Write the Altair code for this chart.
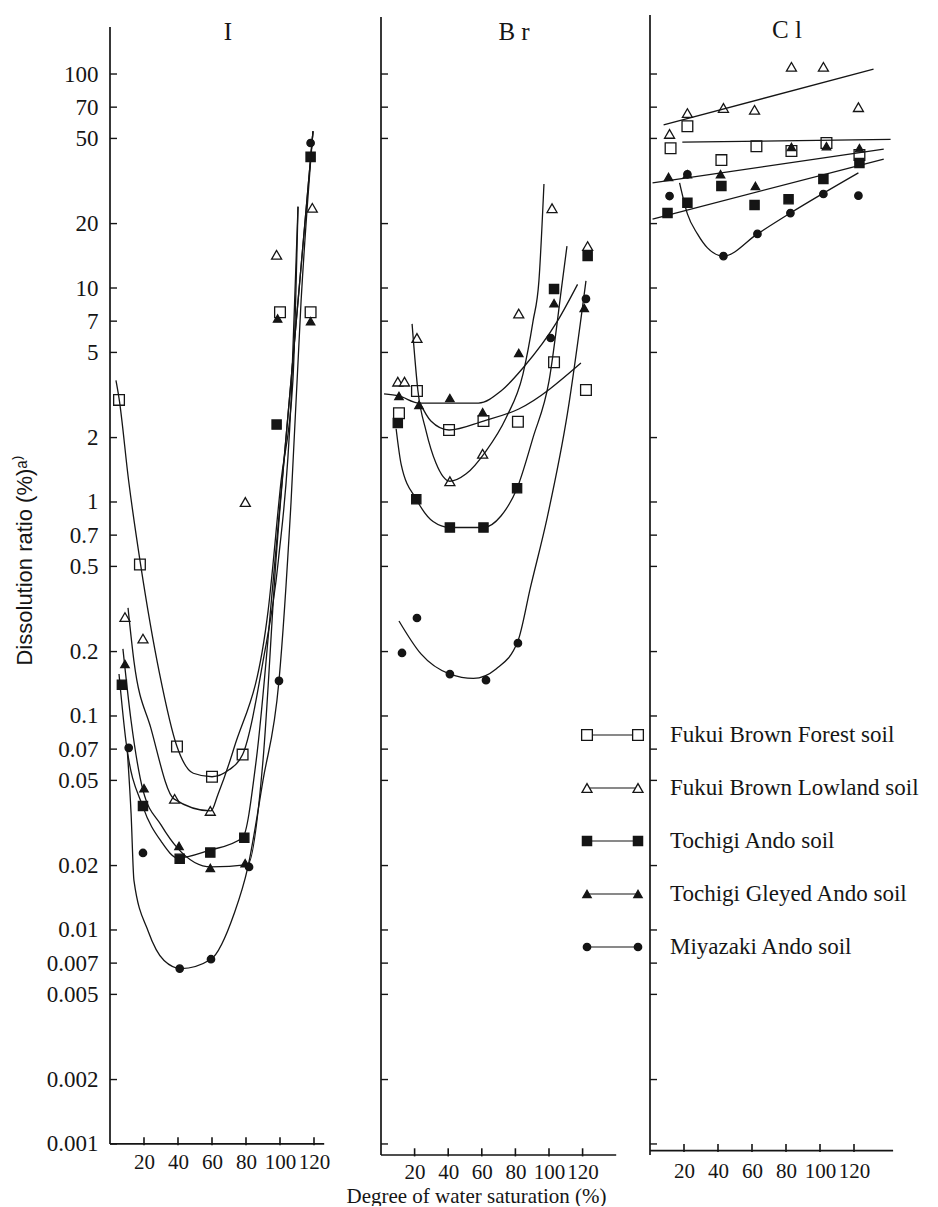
import altair as alt
import pandas as pd

SOILS = ["Fukui Brown Forest soil", "Fukui Brown Lowland soil", "Tochigi Ando soil",
         "Tochigi Gleyed Ando soil", "Miyazaki Ando soil"]
SHAPES = ["square", "triangle-up", "square", "triangle-up", "circle"]
FILLS = ["white", "white", "#151515", "#151515", "#151515"]
SIZES = [115, 55, 115, 75, 105]

Y_TICKS = [0.001, 0.002, 0.005, 0.007, 0.01, 0.02, 0.05, 0.07, 0.1, 0.2, 0.5, 0.7,
           1, 2, 5, 7, 10, 20, 50, 70, 100]
X_TICKS = [20, 40, 60, 80, 100, 120]

# ---------------- Panel I : measured points ----------------
I_FOREST_X = [5.3, 17.6, 39.4, 60, 78, 100, 118]
I_FOREST_Y = [3.0, 0.51, 0.072, 0.052, 0.066, 7.7, 7.7]
I_LOWLAND_X = [8.8, 19.4, 38, 59, 79.6, 98, 119]
I_LOWLAND_Y = [0.29, 0.23, 0.041, 0.036, 1.0, 14.3, 23.7]
I_ANDO_X = [7, 19.4, 41, 59, 79, 98, 118]
I_ANDO_Y = [0.14, 0.038, 0.0215, 0.023, 0.027, 2.3, 41]
I_GLEYED_X = [8.8, 20, 40.6, 59, 79.5, 98.6, 118]
I_GLEYED_Y = [0.175, 0.046, 0.0247, 0.0195, 0.0205, 7.2, 7.0]
I_MIYAZAKI_X = [11, 19.4, 41, 59.4, 81.8, 99.4, 118]
I_MIYAZAKI_Y = [0.071, 0.0229, 0.0066, 0.0073, 0.0197, 0.146, 47.6]

# Panel I : hand-drawn curves
I_FOREST_CX = [3.5, 5.3, 11, 18, 29, 39.4, 49, 60, 70, 78, 90, 99, 106.5, 110.6]
I_FOREST_CY = [3.7, 3.06, 1.25, 0.51, 0.16, 0.072, 0.054, 0.052, 0.056, 0.066, 0.18, 0.53, 2.96, 24]
I_LOWLAND_CX = [10.6, 14.1, 24, 37.6, 59.4, 63.5, 73, 93, 100.6, 107.6, 110.6]
I_LOWLAND_CY = [0.32, 0.18, 0.088, 0.041, 0.036, 0.043, 0.071, 0.31, 1.25, 3.7, 24]
I_ANDO_CX = [5.3, 9.4, 19.4, 30, 40, 58, 78, 86, 96, 106.5, 119.4]
I_ANDO_CY = [0.157, 0.076, 0.0376, 0.026, 0.0217, 0.0235, 0.027, 0.062, 0.43, 3.7, 54]
I_GLEYED_CX = [7.6, 12.4, 19.4, 30, 40, 59.4, 81, 90, 97.6, 106.5, 119.4]
I_GLEYED_CY = [0.206, 0.095, 0.045, 0.031, 0.024, 0.0197, 0.0202, 0.062, 0.53, 3.7, 54]
I_MIYAZAKI_CX = [10, 12.4, 14.1, 22.4, 31.8, 41.8, 59.4, 73, 81, 90, 99.4, 106.5, 112.4, 119.4]
I_MIYAZAKI_CY = [0.072, 0.035, 0.017, 0.0099, 0.0072, 0.0066, 0.0073, 0.0119, 0.0195, 0.050,
                 0.146, 1.0, 8.7, 54]

# ---------------- Panel Br ----------------
BR_FOREST_X = [10.7, 21.4, 40.5, 61, 81.5, 103, 122]
BR_FOREST_Y = [2.6, 3.3, 2.17, 2.39, 2.37, 4.5, 3.34]
BR_LOWLAND_X = [10, 14, 21.4, 41, 60.5, 82, 101.8, 123]
BR_LOWLAND_Y = [3.65, 3.65, 5.84, 1.25, 1.68, 7.6, 23.6, 15.7]
BR_ANDO_X = [10, 21, 41, 61, 81, 103, 123]
BR_ANDO_Y = [2.34, 1.03, 0.76, 0.76, 1.16, 9.9, 14.1]
BR_GLEYED_X = [10.7, 22.6, 41, 60.5, 82, 103, 121]
BR_GLEYED_Y = [3.13, 2.84, 3.06, 2.63, 4.97, 8.5, 8.07]
BR_MIYAZAKI_X = [12.5, 21.4, 41, 62.5, 81.5, 101, 122]
BR_MIYAZAKI_Y = [0.197, 0.287, 0.157, 0.147, 0.219, 5.84, 8.9]

BR_FOREST_CX = [22.6, 29.7, 40.5, 61, 82, 119]
BR_FOREST_CY = [2.96, 2.39, 2.17, 2.39, 2.72, 4.46]
BR_LOWLAND_CX = [18.5, 22, 26.8, 32.7, 41, 50.5, 62.5, 74.4, 84.5, 90.5, 94, 97]
BR_LOWLAND_CY = [6.8, 3.3, 2.15, 1.52, 1.25, 1.35, 1.73, 2.47, 3.96, 7.0, 10.8, 30.6]
BR_ANDO_CX = [9, 12, 21, 31, 41, 61, 71.4, 81, 90.5, 100, 108, 110.7]
BR_ANDO_CY = [2.2, 1.5, 1.03, 0.81, 0.76, 0.76, 0.86, 1.16, 2.0, 3.67, 10.8, 15.7]
BR_GLEYED_CX = [1.8, 10.7, 22.6, 41, 58, 71.4, 84.5, 105, 117]
BR_GLEYED_CY = [3.2, 3.13, 2.9, 2.9, 2.9, 3.3, 4.23, 7.0, 10.4]
BR_MIYAZAKI_CX = [10.7, 23.8, 41, 55, 68.5, 81.5, 89, 99, 111, 122]
BR_MIYAZAKI_CY = [0.278, 0.195, 0.157, 0.15, 0.166, 0.224, 0.40, 0.85, 2.6, 10.8]

# ---------------- Panel Cl ----------------
CL_FOREST_X = [12.1, 22, 42, 62.6, 83.2, 103.8, 123.2]
CL_FOREST_Y = [45, 57, 39.6, 46, 43.7, 47.6, 41.8]
CL_LOWLAND_X = [11.5, 22, 43.2, 61.5, 83.2, 102, 122.6]
CL_LOWLAND_Y = [52.5, 65.7, 69.4, 68, 108, 108, 70]
CL_ANDO_X = [10.3, 22, 42, 61.5, 81.5, 102, 123.2]
CL_ANDO_Y = [22.4, 25, 30, 24.4, 26, 32.3, 38.4]
CL_GLEYED_X = [10.9, 22, 41.5, 62, 83.2, 103.8, 123.2]
CL_GLEYED_Y = [33, 34, 34, 30, 45.6, 46, 45]
CL_MIYAZAKI_X = [11.5, 22, 43.2, 63.2, 82.6, 102, 122.6]
CL_MIYAZAKI_Y = [26.9, 34, 14.1, 17.9, 22.4, 27.5, 27]

CL_FOREST_CX = [19, 141.5]
CL_FOREST_CY = [48, 49.5]
CL_LOWLAND_CX = [8, 131.5]
CL_LOWLAND_CY = [57.8, 105.5]
CL_ANDO_CX = [1.5, 137.5]
CL_ANDO_CY = [21, 40]
CL_GLEYED_CX = [1.5, 137.5]
CL_GLEYED_CY = [31, 44.6]
CL_MIYAZAKI_CX = [17.4, 22, 27.9, 33.8, 43.2, 63.2, 82.6, 122.6]
CL_MIYAZAKI_CY = [31, 22.2, 17.9, 15.4, 14.1, 17.9, 22.4, 34.5]

# ---------------- styling / layout ----------------
INK = "#151515"
SERIF = "Liberation Serif"
SANS = "Liberation Sans"
Y_DOMAIN = [0.000888, 188.7]
PLOT_H = 1140


def table(series):
    rows = []
    for soil, xs, ys in series:
        rows += [{"soil": soil, "x": a, "y": b} for a, b in zip(xs, ys)]
    return pd.DataFrame(rows)


SHAPE = alt.Shape("soil:N", scale=alt.Scale(domain=SOILS, range=SHAPES), legend=None)
FILL = alt.Fill("soil:N", scale=alt.Scale(domain=SOILS, range=FILLS), legend=None)
SIZE = alt.Size("soil:O", scale=alt.Scale(domain=SOILS, range=SIZES), legend=None)


def panel(pts, crv, x_max, x_base, x_end, y_bottom, y_top, label, lx, ly, x_axis, y_axis):
    xs = alt.Scale(domain=[0, x_max], nice=False, zero=False)
    ys = alt.Scale(type="log", domain=Y_DOMAIN, nice=False)
    X = alt.X("x:Q", scale=xs, axis=x_axis)
    Y = alt.Y("y:Q", scale=ys, axis=y_axis)
    dummy = pd.DataFrame({"k": [0]})

    curves = alt.Chart(crv).mark_line(interpolate="monotone", color=INK, strokeWidth=1.3).encode(
        x=X, y=Y, detail="soil:N")
    points = alt.Chart(pts).mark_point(filled=True, stroke=INK, strokeWidth=1.3, opacity=1).encode(
        x=X, y=Y, shape=SHAPE, fill=FILL, size=SIZE)
    yline = alt.Chart(dummy).mark_rule(color=INK, strokeWidth=1.7).encode(
        x=alt.value(0), y=alt.YDatum(y_bottom, scale=ys, axis=y_axis), y2=alt.Y2Datum(y_top))
    xline = alt.Chart(dummy).mark_rule(color=INK, strokeWidth=1.7).encode(
        x=alt.XDatum(0, scale=xs, axis=x_axis), x2=alt.X2Datum(x_end),
        y=alt.YDatum(x_base, scale=ys, axis=y_axis))
    yticks = alt.Chart(pd.DataFrame({"y": Y_TICKS})).mark_rule(color=INK, strokeWidth=1.4).encode(
        y=Y, x=alt.value(0), x2=alt.value(7))
    xticks = alt.Chart(pd.DataFrame({"x": X_TICKS})).mark_rule(color=INK, strokeWidth=1.6).encode(
        x=X, y=alt.YDatum(x_base * 0.985, scale=ys, axis=y_axis), y2=alt.Y2Datum(x_base * 1.075))
    title = alt.Chart(pd.DataFrame({"t": [label]})).mark_text(
        font=SERIF, fontSize=25, color=INK, align="center", baseline="middle").encode(
        x=alt.value(lx), y=alt.value(ly), text="t:N")
    return alt.layer(points, curves, yline, xline, yticks, xticks, title)


def x_axis(pad, **kw):
    return alt.Axis(values=X_TICKS, ticks=False, domain=False, grid=False, labelFont=SERIF,
                    labelFontSize=21, labelColor=INK, labelPadding=pad, labelOverlap=False,
                    labelFlush=False, **kw)


# Panel I
pts_I = table([(SOILS[0], I_FOREST_X, I_FOREST_Y), (SOILS[1], I_LOWLAND_X, I_LOWLAND_Y),
               (SOILS[2], I_ANDO_X, I_ANDO_Y), (SOILS[3], I_GLEYED_X, I_GLEYED_Y),
               (SOILS[4], I_MIYAZAKI_X, I_MIYAZAKI_Y)])
crv_I = table([(SOILS[0], I_FOREST_CX, I_FOREST_CY), (SOILS[1], I_LOWLAND_CX, I_LOWLAND_CY),
               (SOILS[2], I_ANDO_CX, I_ANDO_CY), (SOILS[3], I_GLEYED_CX, I_GLEYED_CY),
               (SOILS[4], I_MIYAZAKI_CX, I_MIYAZAKI_CY)])
y_axis_I = alt.Axis(values=Y_TICKS, format="~g", ticks=False, domain=False, grid=False,
                    labelFont=SERIF, labelFontSize=23, labelColor=INK, labelPadding=12,
                    labelOverlap=False, labelFlush=False,
                    title="Dissolution ratio (%)\u1d43\u207e", titleFont=SANS, titleFontSize=22,
                    titleFontWeight="normal", titleColor=INK, titlePadding=10, titleY=545)
p_I = panel(pts_I, crv_I, 271 / 1.7, 0.001, 126, 0.001, 166, "I", 118, 17,
            x_axis(-4, title=None), y_axis_I).properties(width=271, height=PLOT_H)

# Panel Br
pts_B = table([(SOILS[0], BR_FOREST_X, BR_FOREST_Y), (SOILS[1], BR_LOWLAND_X, BR_LOWLAND_Y),
               (SOILS[2], BR_ANDO_X, BR_ANDO_Y), (SOILS[3], BR_GLEYED_X, BR_GLEYED_Y),
               (SOILS[4], BR_MIYAZAKI_X, BR_MIYAZAKI_Y)])
crv_B = table([(SOILS[0], BR_FOREST_CX, BR_FOREST_CY), (SOILS[1], BR_LOWLAND_CX, BR_LOWLAND_CY),
               (SOILS[2], BR_ANDO_CX, BR_ANDO_CY), (SOILS[3], BR_GLEYED_CX, BR_GLEYED_CY),
               (SOILS[4], BR_MIYAZAKI_CX, BR_MIYAZAKI_CY)])
x_axis_B = x_axis(6, title="Degree of water saturation  (%)", titleFont=SERIF, titleFontSize=21,
                  titleFontWeight="normal", titleColor=INK, titleX=95, titleY=41,
                  titleBaseline="middle")
p_B = panel(pts_B, crv_B, 269 / 1.68, Y_DOMAIN[0], 140, Y_DOMAIN[0], 184.6, "B r", 133, 17,
            x_axis_B, None).properties(width=269, height=PLOT_H)

# Panel Cl (with legend)
pts_C = table([(SOILS[0], CL_FOREST_X, CL_FOREST_Y), (SOILS[1], CL_LOWLAND_X, CL_LOWLAND_Y),
               (SOILS[2], CL_ANDO_X, CL_ANDO_Y), (SOILS[3], CL_GLEYED_X, CL_GLEYED_Y),
               (SOILS[4], CL_MIYAZAKI_X, CL_MIYAZAKI_Y)])
crv_C = table([(SOILS[0], CL_FOREST_CX, CL_FOREST_CY), (SOILS[1], CL_LOWLAND_CX, CL_LOWLAND_CY),
               (SOILS[2], CL_ANDO_CX, CL_ANDO_CY), (SOILS[3], CL_GLEYED_CX, CL_GLEYED_CY),
               (SOILS[4], CL_MIYAZAKI_CX, CL_MIYAZAKI_CY)])
p_C_data = panel(pts_C, crv_C, 270 / 1.70, 0.00093, 143, Y_DOMAIN[0], Y_DOMAIN[1], "C l",
                 137, 15, x_axis(5, title=None), None)

leg_df = pd.DataFrame({"soil": SOILS})
LY = alt.Y("soil:N", scale=alt.Scale(type="point", domain=SOILS, range=[720, 932], padding=0),
           axis=None)
leg_line = alt.Chart(leg_df).mark_rule(color=INK, strokeWidth=1.1).encode(
    x=alt.value(-63), x2=alt.value(-12), y=LY)
leg_l = alt.Chart(leg_df).mark_point(filled=True, stroke=INK, strokeWidth=1.3, opacity=1).encode(
    x=alt.value(-63), y=LY, shape=SHAPE, fill=FILL, size=SIZE)
leg_r = alt.Chart(leg_df).mark_point(filled=True, stroke=INK, strokeWidth=1.3, opacity=1).encode(
    x=alt.value(-12), y=LY, shape=SHAPE, fill=FILL, size=SIZE)
leg_t = alt.Chart(leg_df).mark_text(font=SERIF, fontSize=23, color=INK, align="left",
                                    baseline="middle").encode(x=alt.value(20), y=LY, text="soil:N")
legend = alt.layer(leg_line, leg_l, leg_r, leg_t)

p_C = alt.layer(p_C_data, legend).resolve_scale(y="independent").properties(
    width=270, height=PLOT_H)

chart = alt.hconcat(p_I, p_B, p_C, spacing=0, bounds="flush").properties(
    padding={"left": 5, "top": 6, "right": 0, "bottom": 0}, background="white"
).configure_view(strokeWidth=0, stroke="transparent")

chart.save("out.html", embed_options={"renderer": "svg", "actions": False})
